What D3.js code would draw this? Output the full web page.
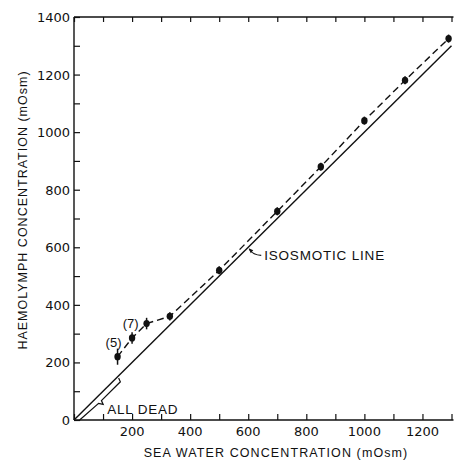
<!DOCTYPE html>
<html>
<head>
<meta charset="utf-8">
<script src="https://cdn.jsdelivr.net/npm/d3@7"></script>
<style>
  body { margin: 0; background: #fff; }
  svg { display: block; }
  text { font-family: "Liberation Sans", Arial, sans-serif; fill: #111; }
  .num { font-family: "DejaVu Sans", "Liberation Sans", sans-serif; }
</style>
</head>
<body>
<svg id="chart" width="459" height="460"></svg>
<script>
// Haemolymph vs sea water osmotic concentration (mOsm)
const seaWater   = [150, 200, 250, 330, 500, 700, 850, 1000, 1140, 1290];
const haemolymph = [220, 285, 335, 360, 520, 725, 880, 1040, 1180, 1325];
const errorBars  = [28, 20, 20, 14, 14, 14, 14, 14, 14, 14];

const xTicks = d3.range(0, 1301, 100);
const xTickLabels = [200, 400, 600, 800, 1000, 1200];
const yTicks = d3.range(0, 1401, 100);
const yTickLabels = [0, 200, 400, 600, 800, 1000, 1200, 1400];

const isosmoticRange = [0, 1300];
const deadRange = [0, 150];
const sampleNotes = [
  { index: 0, text: "(5)" },
  { index: 2, text: "(7)" }
];

const svg = d3.select("#chart");
const x = d3.scaleLinear().domain([0, 1300]).range([74, 451.5]);
const y = d3.scaleLinear().domain([0, 1400]).range([420, 17]);

const ink = "#111";

// Frame: left, bottom and top axes with inward ticks
const bottomAxis = d3.axisBottom(x).tickValues(xTicks).tickSize(-6).tickFormat("");
const leftAxis = d3.axisLeft(y).tickValues(yTicks).tickSize(-6).tickFormat("");
const topAxis = d3.axisTop(x).tickValues(xTicks).tickSize(-5).tickFormat("");

function styleAxis(g) {
  g.select(".domain").attr("stroke", ink).attr("stroke-width", 1.4);
  g.selectAll(".tick line").attr("stroke", ink).attr("stroke-width", 1.2);
}

svg.append("g").attr("transform", `translate(0,${y(0)})`).call(bottomAxis).call(styleAxis)
  .select(".domain").attr("d", `M${x(0)},0H${x(1300) + 2}`);
svg.append("g").attr("transform", `translate(${x(0)},0)`).call(leftAxis).call(styleAxis)
  .select(".domain").attr("d", `M0,${y(1400)}V${y(0)}`);
svg.append("g").attr("transform", `translate(0,${y(1400)})`).call(topAxis).call(styleAxis)
  .select(".domain").attr("d", `M${x(0)},0H${x(1300) + 2}`);

// Tick labels
svg.append("g").selectAll("text").data(xTickLabels).join("text")
  .attr("class", "num")
  .attr("x", d => x(d)).attr("y", 436)
  .attr("text-anchor", "middle").attr("font-size", 13)
  .text(d => d);

svg.append("g").selectAll("text").data(yTickLabels).join("text")
  .attr("class", "num")
  .attr("x", 70).attr("y", d => y(d) + 5)
  .attr("text-anchor", "end").attr("font-size", 13)
  .text(d => d);

// Axis titles
svg.append("text")
  .attr("x", 276).attr("y", 457)
  .attr("text-anchor", "middle").attr("font-size", 12.5)
  .attr("letter-spacing", 1.1)
  .text("SEA WATER CONCENTRATION (mOsm)");

svg.append("text")
  .attr("transform", "translate(27,210) rotate(-90)")
  .attr("text-anchor", "middle").attr("font-size", 12.5)
  .attr("letter-spacing", 1)
  .text("HAEMOLYMPH CONCENTRATION (mOsm)");

// Isosmotic line
svg.append("line")
  .attr("x1", x(isosmoticRange[0])).attr("y1", y(isosmoticRange[0]))
  .attr("x2", x(isosmoticRange[1])).attr("y2", y(isosmoticRange[1]))
  .attr("stroke", ink).attr("stroke-width", 1.4);

// Dashed line through the mean values
const points = seaWater.map((s, i) => ({ s, h: haemolymph[i], e: errorBars[i] }));
svg.append("path")
  .datum(points)
  .attr("d", d3.line().x(d => x(d.s)).y(d => y(d.h)))
  .attr("fill", "none").attr("stroke", ink).attr("stroke-width", 1.4)
  .attr("stroke-dasharray", "7,4");

// Error bars and means
svg.append("g").selectAll("line").data(points).join("line")
  .attr("x1", d => x(d.s)).attr("x2", d => x(d.s))
  .attr("y1", d => y(d.h - d.e)).attr("y2", d => y(d.h + d.e))
  .attr("stroke", ink).attr("stroke-width", 1.5);

svg.append("g").selectAll("ellipse").data(points).join("ellipse")
  .attr("cx", d => x(d.s)).attr("cy", d => y(d.h)).attr("rx", 3.2).attr("ry", 3.6)
  .attr("fill", ink);

// Sample size notes
const noteOffsets = [[-4, -10], [-16, 4]];
svg.append("g").selectAll("text").data(sampleNotes).join("text")
  .attr("x", (d, i) => x(seaWater[d.index]) + noteOffsets[i][0])
  .attr("y", (d, i) => y(haemolymph[d.index]) + noteOffsets[i][1])
  .attr("text-anchor", "middle").attr("font-size", 13)
  .text(d => d.text);

// Brace marking the range where all animals died
(function drawBrace() {
  const p0 = [x(deadRange[0]), y(deadRange[0])];
  const p1 = [x(deadRange[1]), y(deadRange[1])];
  const len = Math.hypot(p1[0] - p0[0], p1[1] - p0[1]);
  const d = [(p1[0] - p0[0]) / len, (p1[1] - p0[1]) / len];
  const n = [-d[1], d[0]];
  const h = 5.5;
  const pt = (base, a, b) => [base[0] + d[0] * a + n[0] * b, base[1] + d[1] * a + n[1] * b];
  const mid = [(p0[0] + p1[0]) / 2, (p0[1] + p1[1]) / 2];
  const pts = [
    pt(p0, 4, 4), pt(mid, -1.5, h), pt(mid, 1, h + 4),
    pt(mid, 2.5, h), pt(p1, -1.5, h), pt(p1, 0, 1.5)
  ];
  svg.append("path")
    .attr("d", d3.line()(pts))
    .attr("fill", "none").attr("stroke", ink).attr("stroke-width", 1.2);
  const tip = pt(mid, 1, h + 4);
  svg.append("text")
    .attr("x", tip[0] + 4).attr("y", tip[1] + 10)
    .attr("font-size", 13.5).attr("letter-spacing", 0.8)
    .text("ALL DEAD");
})();

// Label with curved pointer to the isosmotic line
(function drawIsoLabel() {
  const tx = x(600), ty = y(600);
  const start = [tx + 13, ty + 8];
  const end = [tx + 1, ty + 2];
  svg.append("path")
    .attr("d", `M${start[0]},${start[1]} Q${tx + 5},${ty + 8} ${end[0]},${end[1]}`)
    .attr("fill", "none").attr("stroke", ink).attr("stroke-width", 1.2);
  // arrowhead
  svg.append("path")
    .attr("d", `M${end[0] - 0.5},${end[1] - 1} L${end[0] + 4},${end[1] + 1} L${end[0] + 1.5},${end[1] + 4} Z`)
    .attr("fill", ink);
  svg.append("text")
    .attr("x", tx + 16).attr("y", ty + 13)
    .attr("font-size", 13.5).attr("letter-spacing", 0.8)
    .text("ISOSMOTIC LINE");
})();
</script>
</body>
</html>
